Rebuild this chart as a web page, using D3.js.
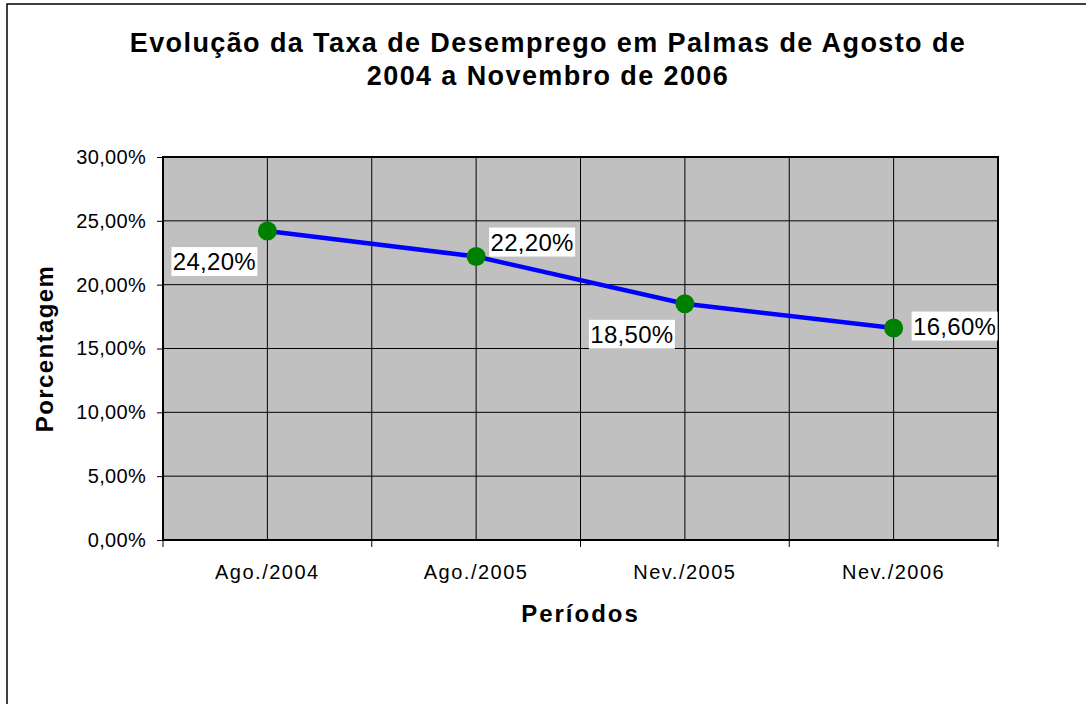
<!DOCTYPE html>
<html>
<head>
<meta charset="utf-8">
<script src="https://cdn.jsdelivr.net/npm/d3@7"></script>
<style>
  body { margin: 0; background: #fff; }
  svg text { font-family: "Liberation Sans", Arial, sans-serif; fill: #000; }
</style>
</head>
<body>
<div id="chart"></div>
<script>
// data
var periods = ["Ago./2004", "Ago./2005", "Nev./2005", "Nev./2006"];
var rates = [24.2, 22.2, 18.5, 16.6];
var yTicks = [0, 5, 10, 15, 20, 25, 30];
var labelSide = ["bottomleft", "topright", "bottomleft", "right"];

var width = 1086, height = 704,
	plot = {left: 163, top: 157, right: 998, bottom: 540},
	ptBr = d3.formatLocale({decimal: ",", thousands: ".", grouping: [3], currency: ["R$", ""]}),
	fmt = function (v) { return ptBr.format(".2f")(v) + "%"; };

var svg = d3.select("#chart").append("svg")
	.attr("width", width)
	.attr("height", height);

// outer chart frame (cut at the right and bottom edges)
svg.append("rect")
	.attr("x", 7).attr("y", 4)
	.attr("width", width + 20).attr("height", height + 20)
	.attr("fill", "#fff")
	.attr("stroke", "#000")
	.attr("stroke-width", 1.5);

var x = d3.scaleBand().domain(periods).range([plot.left, plot.right]).padding(0);
var y = d3.scaleLinear().domain([0, 30]).range([plot.bottom, plot.top]);

// title
var title = svg.append("text")
	.attr("text-anchor", "middle")
	.style("font-size", "27px")
	.style("font-weight", "bold")
	.style("letter-spacing", "1.4px");
title.append("tspan").attr("x", 548).attr("y", 52).text("Evolução da Taxa de Desemprego em Palmas de Agosto de");
title.append("tspan").attr("x", 548).attr("y", 85).text("2004 a Novembro de 2006");

// plot background
svg.append("rect")
	.attr("x", plot.left).attr("y", plot.top)
	.attr("width", plot.right - plot.left).attr("height", plot.bottom - plot.top)
	.attr("fill", "#c0c0c0");

// horizontal grid
svg.append("g").selectAll("line")
	.data(yTicks).enter().append("line")
	.attr("x1", plot.left).attr("x2", plot.right)
	.attr("y1", function (d) { return y(d); })
	.attr("y2", function (d) { return y(d); })
	.attr("stroke", "#000").attr("stroke-width", 1);

// vertical grid: band edges and band centres
var vLines = [];
periods.forEach(function (p) {
	vLines.push(x(p));
	vLines.push(x(p) + x.bandwidth() / 2);
});
vLines.push(plot.right);
svg.append("g").selectAll("line")
	.data(vLines).enter().append("line")
	.attr("x1", function (d) { return d; }).attr("x2", function (d) { return d; })
	.attr("y1", plot.top).attr("y2", plot.bottom)
	.attr("stroke", "#000").attr("stroke-width", 1);

// plot frame
svg.append("rect")
	.attr("x", plot.left).attr("y", plot.top)
	.attr("width", plot.right - plot.left).attr("height", plot.bottom - plot.top)
	.attr("fill", "none")
	.attr("stroke", "#000").attr("stroke-width", 2);

// y axis
var yAxis = svg.append("g")
	.attr("transform", "translate(" + plot.left + ",0)")
	.call(d3.axisLeft(y).tickValues(yTicks).tickFormat(fmt).tickSize(6).tickPadding(11));
yAxis.select(".domain").remove();
yAxis.selectAll("text")
	.style("font-size", "20px").style("letter-spacing", "0.3px")
	.style("font-family", "Liberation Sans, Arial, sans-serif");
yAxis.selectAll("line").attr("stroke", "#000");

// x axis: labels at band centres, ticks at band edges
var xAxis = svg.append("g")
	.attr("transform", "translate(0," + plot.bottom + ")")
	.call(d3.axisBottom(x).tickSize(0).tickPadding(0));
xAxis.select(".domain").remove();
xAxis.selectAll("text")
	.attr("y", 39).attr("dy", null)
	.style("font-size", "20px").style("letter-spacing", "1.5px")
	.style("font-family", "Liberation Sans, Arial, sans-serif");

var edges = periods.map(function (p) { return x(p); }).concat([plot.right]);
svg.append("g").selectAll("line")
	.data(edges).enter().append("line")
	.attr("x1", function (d) { return d; }).attr("x2", function (d) { return d; })
	.attr("y1", plot.bottom).attr("y2", plot.bottom + 7)
	.attr("stroke", "#000").attr("stroke-width", 1);

// axis titles
svg.append("text")
	.attr("x", (plot.left + plot.right) / 2).attr("y", 622)
	.attr("text-anchor", "middle")
	.style("font-size", "24px").style("font-weight", "bold").style("letter-spacing", "2px")
	.text("Períodos");

svg.append("text")
	.attr("transform", "translate(53," + ((plot.top + plot.bottom) / 2) + ") rotate(-90)")
	.attr("text-anchor", "middle")
	.style("font-size", "24px").style("font-weight", "bold").style("letter-spacing", "1.4px")
	.text("Porcentagem");

// line + markers
var points = periods.map(function (p, i) {
	return {x: x(p) + x.bandwidth() / 2, y: y(rates[i]), v: rates[i], side: labelSide[i]};
});

svg.append("path")
	.datum(points)
	.attr("fill", "none")
	.attr("stroke", "#0000ff")
	.attr("stroke-width", 4.5)
	.attr("d", d3.line().x(function (d) { return d.x; }).y(function (d) { return d.y; }));

svg.append("g").selectAll("circle")
	.data(points).enter().append("circle")
	.attr("cx", function (d) { return d.x; })
	.attr("cy", function (d) { return d.y; })
	.attr("r", 9.5)
	.attr("fill", "#008000");

// data labels on white boxes
var boxW = 86, boxH = 29;
var labels = svg.append("g").selectAll("g")
	.data(points).enter().append("g")
	.attr("transform", function (d) {
		var bx, by;
		if (d.side == "bottomleft") { bx = d.x - boxW - 10; by = d.y + 16; }
		else if (d.side == "topright") { bx = d.x + 13; by = d.y - boxH; }
		else { bx = d.x + 18; by = d.y - boxH / 2 - 2; }
		return "translate(" + bx + "," + by + ")";
	});
labels.append("rect")
	.attr("width", boxW).attr("height", boxH)
	.attr("fill", "#fff");
labels.append("text")
	.attr("x", boxW / 2).attr("y", 23)
	.attr("text-anchor", "middle")
	.style("font-size", "24px").style("letter-spacing", "0.3px")
	.text(function (d) { return fmt(d.v); });
</script>
</body>
</html>
